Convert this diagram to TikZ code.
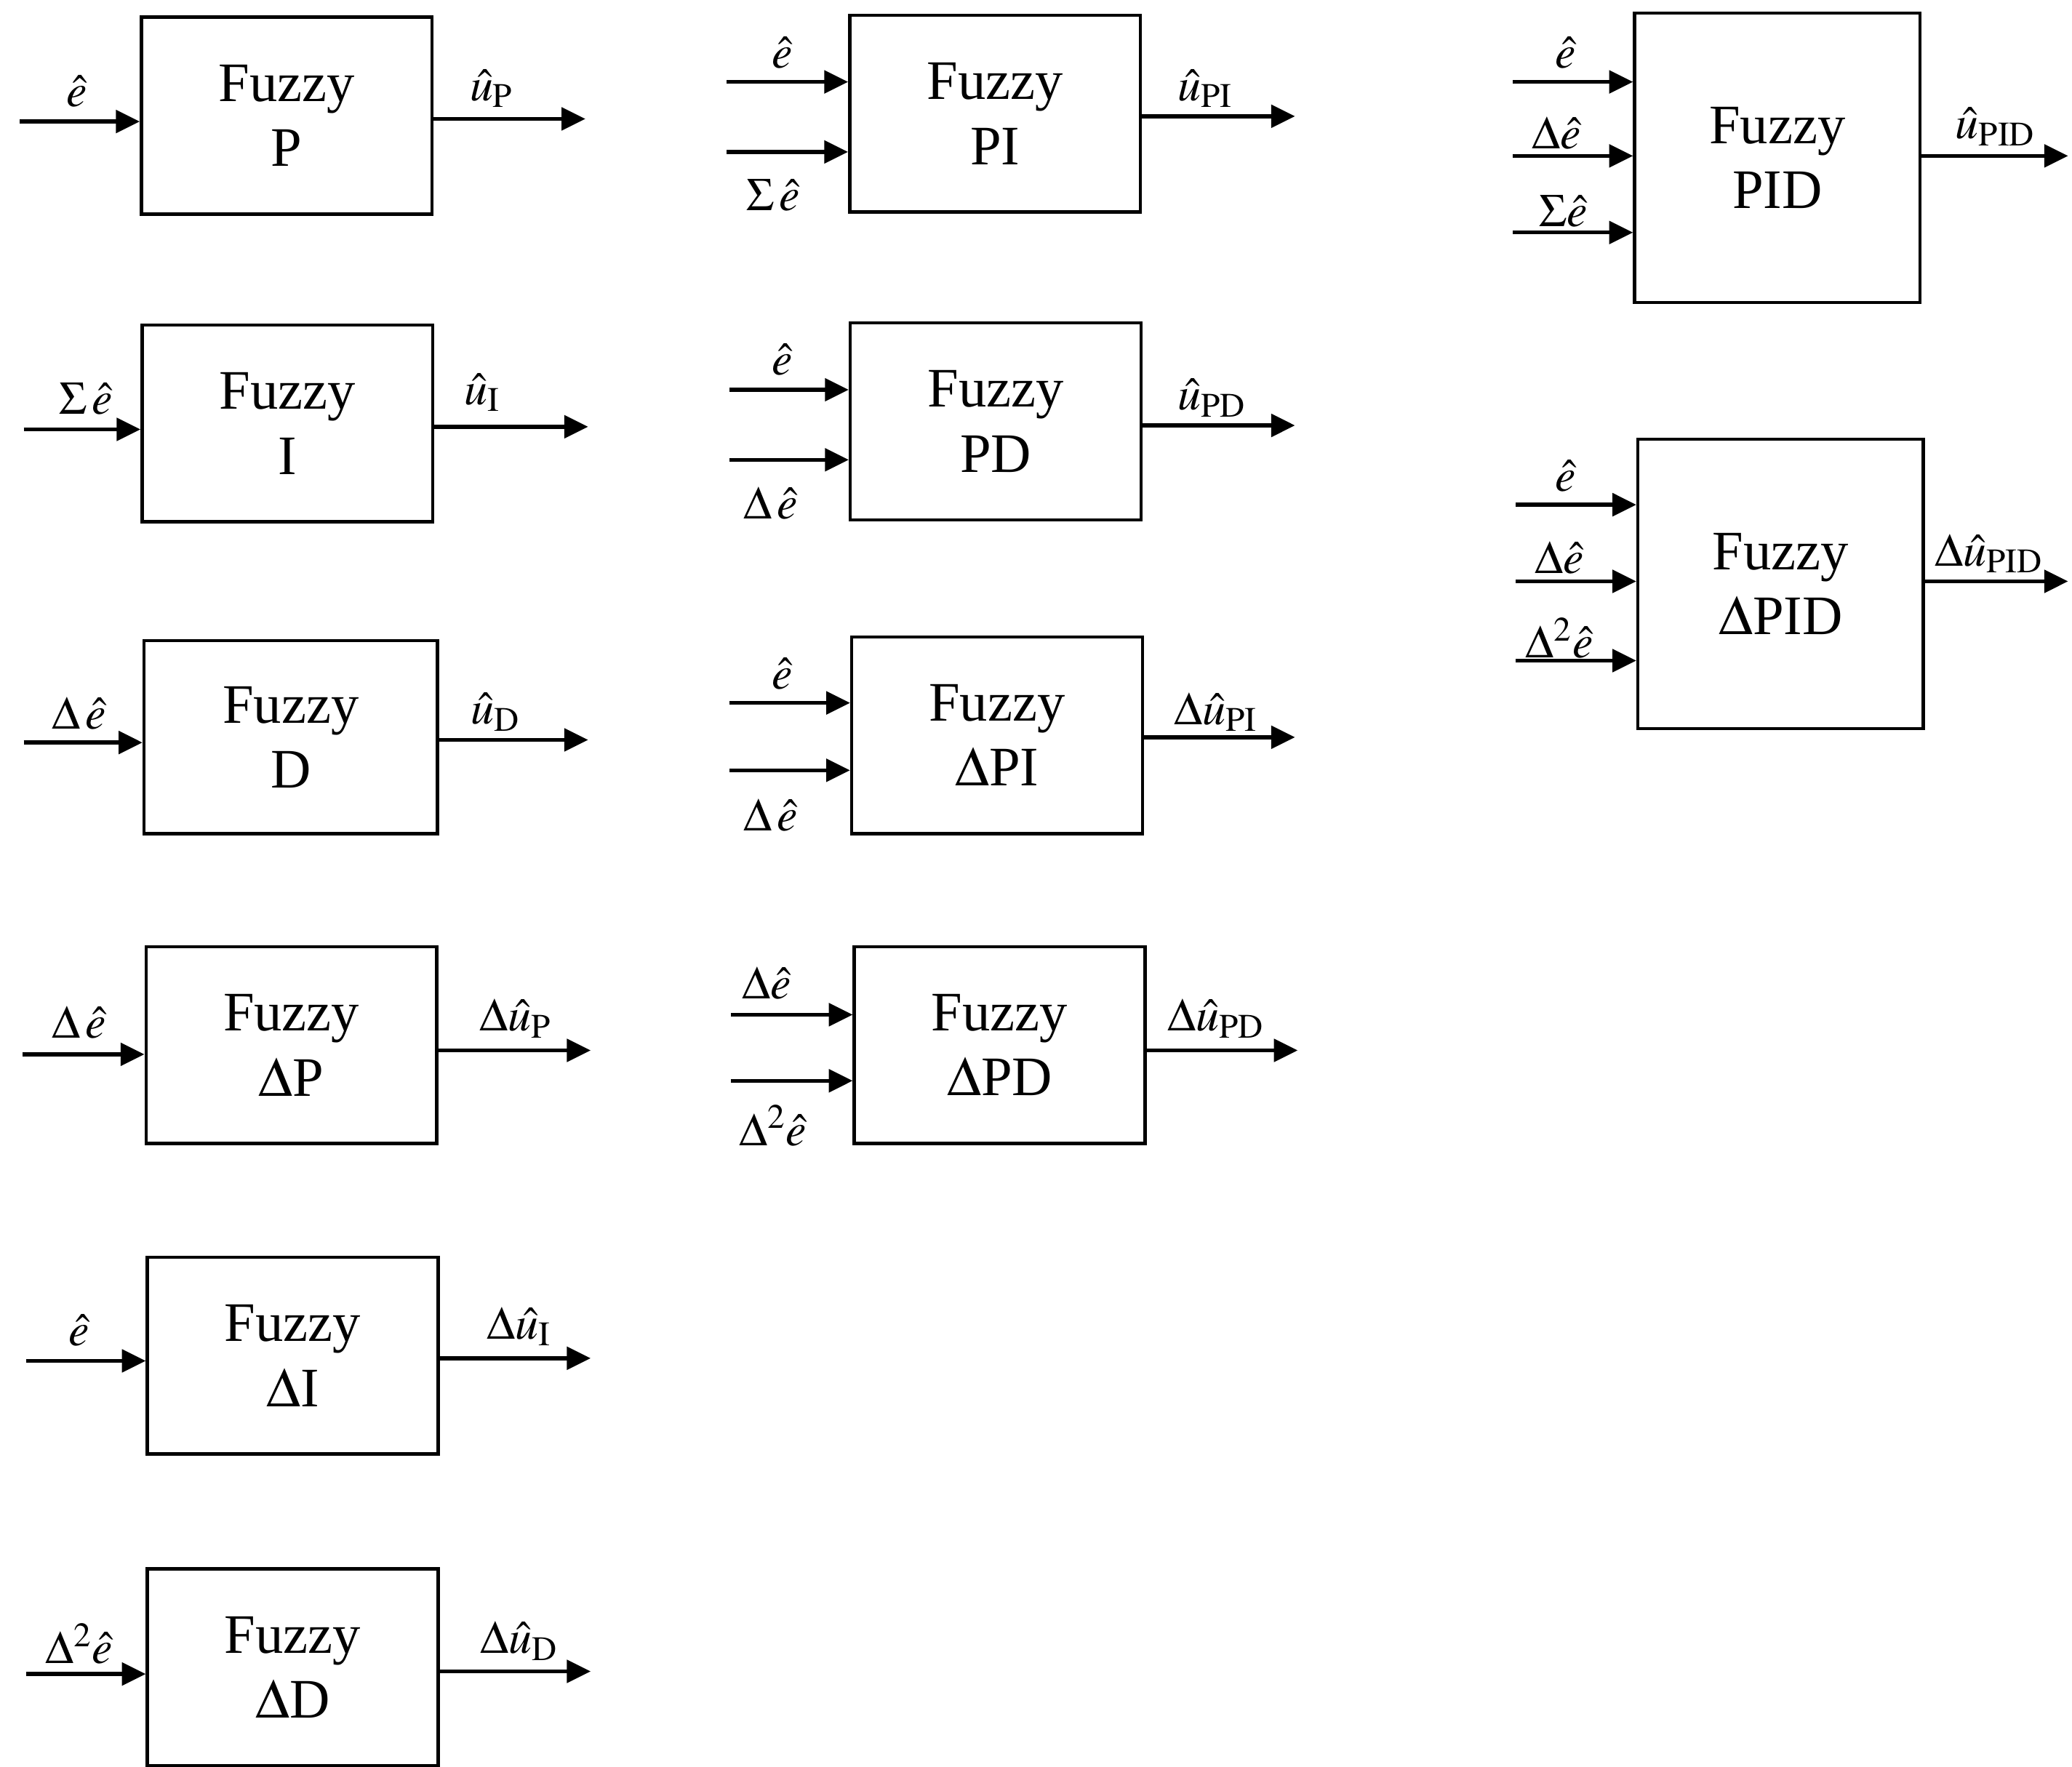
\documentclass[tikz,border=0pt]{standalone}
\usepackage{mathptmx}
\usepackage{fontspec}
\setmainfont{Liberation Serif}
\usetikzlibrary{arrows.meta}

\begin{document}
\begin{tikzpicture}[
    >={Triangle[length=0.36cm, width=0.34cm]},
    line join=miter,
    fbox/.style={draw, line width=1.4pt, minimum width=4.4cm, minimum height=2.98cm,
        align=center, inner sep=0pt, font=\fontsize{24}{28}\selectfont},
    tallbox/.style={fbox, minimum width=4.32cm, minimum height=4.38cm},
    sig/.style={->, line width=1.7pt},
    lbl/.style={inner sep=0pt, font=\fontsize{20}{23}\selectfont}
]
\useasboundingbox (0,0) rectangle (31.36,-26.74);

% Column 1: single-input controllers
\node[fbox] (p) at (4.34,-1.75) {Fuzzy\\P};
\coordinate (p-i) at (0.30,-1.84);
\coordinate (p-o) at (8.86,-1.80);
\draw[sig] (p-i) -- (p-i -| p.west);
\draw[sig] (p-o -| p.east) -- (p-o);
\node[lbl] (p-il) at (1.16,-1.38) {$\hat{e}$};
\node[lbl] (p-ol) at (7.44,-1.34) {$\hat{u}_{\mathrm{P}}$};

\node[fbox] (i) at (4.35,-6.41) {Fuzzy\\I};
\coordinate (i-i) at (0.36,-6.50);
\coordinate (i-o) at (8.90,-6.46);
\draw[sig] (i-i) -- (i-i -| i.west);
\draw[sig] (i-o -| i.east) -- (i-o);
\node[lbl] (i-il) at (1.30,-6.04) {$\Sigma\,\hat{e}$};
\node[lbl] (i-ol) at (7.30,-5.94) {$\hat{u}_{\mathrm{I}}$};

\node[fbox, minimum width=4.44cm, minimum height=2.92cm] (d) at (4.40,-11.16) {Fuzzy\\D};
\coordinate (d-i) at (0.36,-11.24);
\coordinate (d-o) at (8.90,-11.20);
\draw[sig] (d-i) -- (d-i -| d.west);
\draw[sig] (d-o -| d.east) -- (d-o);
\node[lbl] (d-il) at (1.20,-10.80) {$\Delta\,\hat{e}$};
\node[lbl] (d-ol) at (7.50,-10.78) {$\hat{u}_{\mathrm{D}}$};

\node[fbox] (dp) at (4.41,-15.82) {Fuzzy\\$\Delta$P};
\coordinate (dp-i) at (0.34,-15.96);
\coordinate (dp-o) at (8.94,-15.90);
\draw[sig] (dp-i) -- (dp-i -| dp.west);
\draw[sig] (dp-o -| dp.east) -- (dp-o);
\node[lbl] (dp-il) at (1.20,-15.48) {$\Delta\,\hat{e}$};
\node[lbl] (dp-ol) at (7.80,-15.42) {$\Delta\hat{u}_{\mathrm{P}}$};

\node[fbox] (di) at (4.43,-20.52) {Fuzzy\\$\Delta$I};
\coordinate (di-i) at (0.40,-20.60);
\coordinate (di-o) at (8.94,-20.56);
\draw[sig] (di-i) -- (di-i -| di.west);
\draw[sig] (di-o -| di.east) -- (di-o);
\node[lbl] (di-il) at (1.20,-20.14) {$\hat{e}$};
\node[lbl] (di-ol) at (7.86,-20.08) {$\Delta\hat{u}_{\mathrm{I}}$};

\node[fbox] (dd) at (4.43,-25.24) {Fuzzy\\$\Delta$D};
\coordinate (dd-i) at (0.40,-25.34);
\coordinate (dd-o) at (8.94,-25.30);
\draw[sig] (dd-i) -- (dd-i -| dd.west);
\draw[sig] (dd-o -| dd.east) -- (dd-o);
\node[lbl] (dd-il) at (1.20,-24.88) {$\Delta^{2}\hat{e}$};
\node[lbl] (dd-ol) at (7.86,-24.84) {$\Delta\hat{u}_{\mathrm{D}}$};

% Column 2: two-input controllers
\node[fbox] (pi) at (15.06,-1.72) {Fuzzy\\PI};
\coordinate (pi-i1) at (11.00,-1.24);
\coordinate (pi-i2) at (11.00,-2.30);
\coordinate (pi-o) at (19.60,-1.76);
\draw[sig] (pi-i1) -- (pi-i1 -| pi.west);
\draw[sig] (pi-i2) -- (pi-i2 -| pi.west);
\draw[sig] (pi-o -| pi.east) -- (pi-o);
\node[lbl] (pi-il1) at (11.84,-0.80) {$\hat{e}$};
\node[lbl] (pi-il2) at (11.70,-2.96) {$\Sigma\,\hat{e}$};
\node[lbl] (pi-ol) at (18.24,-1.34) {$\hat{u}_{\mathrm{PI}}$};

\node[fbox] (pd) at (15.07,-6.38) {Fuzzy\\PD};
\coordinate (pd-i1) at (11.04,-5.90);
\coordinate (pd-i2) at (11.04,-6.96);
\coordinate (pd-o) at (19.60,-6.44);
\draw[sig] (pd-i1) -- (pd-i1 -| pd.west);
\draw[sig] (pd-i2) -- (pd-i2 -| pd.west);
\draw[sig] (pd-o -| pd.east) -- (pd-o);
\node[lbl] (pd-il1) at (11.84,-5.44) {$\hat{e}$};
\node[lbl] (pd-il2) at (11.66,-7.62) {$\Delta\,\hat{e}$};
\node[lbl] (pd-ol) at (18.34,-6.02) {$\hat{u}_{\mathrm{PD}}$};

\node[fbox] (dpi) at (15.09,-11.13) {Fuzzy\\$\Delta$PI};
\coordinate (dpi-i1) at (11.04,-10.64);
\coordinate (dpi-i2) at (11.04,-11.66);
\coordinate (dpi-o) at (19.60,-11.16);
\draw[sig] (dpi-i1) -- (dpi-i1 -| dpi.west);
\draw[sig] (dpi-i2) -- (dpi-i2 -| dpi.west);
\draw[sig] (dpi-o -| dpi.east) -- (dpi-o);
\node[lbl] (dpi-il1) at (11.84,-10.20) {$\hat{e}$};
\node[lbl] (dpi-il2) at (11.66,-12.34) {$\Delta\,\hat{e}$};
\node[lbl] (dpi-ol) at (18.40,-10.78) {$\Delta\hat{u}_{\mathrm{PI}}$};

\node[fbox] (dpd) at (15.13,-15.82) {Fuzzy\\$\Delta$PD};
\coordinate (dpd-i1) at (11.06,-15.36);
\coordinate (dpd-i2) at (11.06,-16.36);
\coordinate (dpd-o) at (19.64,-15.90);
\draw[sig] (dpd-i1) -- (dpd-i1 -| dpd.west);
\draw[sig] (dpd-i2) -- (dpd-i2 -| dpd.west);
\draw[sig] (dpd-o -| dpd.east) -- (dpd-o);
\node[lbl] (dpd-il1) at (11.60,-14.88) {$\Delta\hat{e}$};
\node[lbl] (dpd-il2) at (11.70,-17.04) {$\Delta^{2}\hat{e}$};
\node[lbl] (dpd-ol) at (18.40,-15.42) {$\Delta\hat{u}_{\mathrm{PD}}$};

% Column 3: three-input controllers
\node[tallbox] (pid) at (26.90,-2.39) {Fuzzy\\PID};
\coordinate (pid-i1) at (22.90,-1.24);
\coordinate (pid-i2) at (22.90,-2.36);
\coordinate (pid-i3) at (22.90,-3.52);
\coordinate (pid-o) at (31.30,-2.36);
\draw[sig] (pid-i1) -- (pid-i1 -| pid.west);
\draw[sig] (pid-i2) -- (pid-i2 -| pid.west);
\draw[sig] (pid-i3) -- (pid-i3 -| pid.west);
\draw[sig] (pid-o -| pid.east) -- (pid-o);
\node[lbl] (pid-il1) at (23.70,-0.80) {$\hat{e}$};
\node[lbl] (pid-il2) at (23.56,-2.02) {$\Delta\hat{e}$};
\node[lbl] (pid-il3) at (23.66,-3.20) {$\Sigma\hat{e}$};
\node[lbl] (pid-ol) at (30.20,-1.92) {$\hat{u}_{\mathrm{PID}}$};

\node[tallbox] (dpid) at (26.95,-8.84) {Fuzzy\\$\Delta$PID};
\coordinate (dpid-i1) at (22.94,-7.64);
\coordinate (dpid-i2) at (22.94,-8.80);
\coordinate (dpid-i3) at (22.94,-10.00);
\coordinate (dpid-o) at (31.30,-8.80);
\draw[sig] (dpid-i1) -- (dpid-i1 -| dpid.west);
\draw[sig] (dpid-i2) -- (dpid-i2 -| dpid.west);
\draw[sig] (dpid-i3) -- (dpid-i3 -| dpid.west);
\draw[sig] (dpid-o -| dpid.east) -- (dpid-o);
\node[lbl] (dpid-il1) at (23.70,-7.20) {$\hat{e}$};
\node[lbl] (dpid-il2) at (23.60,-8.44) {$\Delta\hat{e}$};
\node[lbl] (dpid-il3) at (23.60,-9.66) {$\Delta^{2}\hat{e}$};
\node[lbl] (dpid-ol) at (30.10,-8.38) {$\Delta\hat{u}_{\mathrm{PID}}$};

\end{tikzpicture}
\end{document}
